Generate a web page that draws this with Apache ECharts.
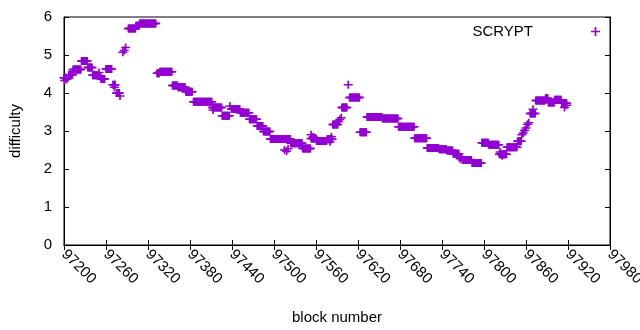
<!DOCTYPE html>
<html>
<head>
<meta charset="utf-8">
<script src="https://cdn.jsdelivr.net/npm/echarts@6/dist/echarts.min.js"></script>
<style>
  html, body { margin: 0; padding: 0; background: #fff; }
  #chart { width: 640px; height: 330px; }
</style>
</head>
<body>
<div id="chart"></div>
<script>
// difficulty stays flat between retargets, so the blocks are kept as runs
let runStart = [97200, 97207, 97213, 97225, 97234, 97241, 97253, 97260, 97270, 97275,
  97292, 97303, 97308, 97333, 97337, 97355, 97363, 97374, 97385, 97412,
  97426, 97439, 97452, 97465, 97476, 97485, 97495, 97524, 97541, 97553,
  97561, 97576, 97584, 97597, 97608, 97623, 97633, 97655, 97678, 97701,
  97719, 97736, 97747, 97756, 97769, 97783, 97797, 97807, 97822, 97833,
  97848, 97866, 97874, 97888, 97892, 97901, 97911];
let runEnd = [97203, 97212, 97224, 97233, 97240, 97248, 97258, 97268, 97273, 97279,
  97302, 97307, 97331, 97336, 97354, 97362, 97373, 97383, 97411, 97425,
  97436, 97451, 97464, 97475, 97484, 97494, 97523, 97540, 97552, 97560,
  97575, 97583, 97591, 97604, 97622, 97632, 97654, 97677, 97700, 97718,
  97735, 97746, 97755, 97764, 97782, 97796, 97806, 97821, 97832, 97847,
  97853, 97873, 97887, 97891, 97900, 97910, 97918];
let runDiff = [4.40, 4.48, 4.62, 4.84, 4.67, 4.47, 4.37, 4.63, 4.22, 4.00,
  5.70, 5.77, 5.83, 4.52, 4.56, 4.20, 4.15, 4.03, 3.77, 3.62,
  3.40, 3.58, 3.48, 3.31, 3.13, 2.99, 2.79, 2.68, 2.54, 2.80,
  2.74, 2.78, 3.17, 3.62, 3.88, 2.97, 3.37, 3.33, 3.11, 2.81,
  2.55, 2.52, 2.49, 2.40, 2.24, 2.16, 2.69, 2.64, 2.39, 2.57,
  2.73, 3.46, 3.80, 3.86, 3.75, 3.82, 3.73];

// odd blocks that sit off the runs
let singleBlock = [97201, 97204, 97250, 97252, 97272, 97280, 97284, 97286, 97288, 97413,
  97437, 97515, 97518, 97520, 97553, 97556, 97580, 97582, 97592, 97594,
  97596, 97606, 97766, 97768, 97823, 97826, 97854, 97856, 97858, 97860,
  97862, 97864, 97870, 97915, 97918];
let singleDiff = [4.33, 4.36, 4.54, 4.42, 4.15, 3.92, 5.07, 5.12, 5.20, 3.55,
  3.66, 2.50, 2.47, 2.53, 2.90, 2.85, 2.72, 2.85, 3.25, 3.30,
  3.35, 4.22, 2.27, 2.30, 2.45, 2.35, 2.90, 2.95, 3.02, 3.08,
  3.18, 3.22, 3.57, 3.62, 3.68];

let xMin = 97200, xMax = 97980, xStep = 60;
let yMin = 0, yMax = 6, yStep = 1;

// one point per block
let points = [];
for (let i = 0; i < runStart.length; i++) {
  for (let b = runStart[i]; b <= runEnd[i]; b++) {
    points.push([b, runDiff[i]]);
  }
}
for (let i = 0; i < singleBlock.length; i++) {
  points.push([singleBlock[i], singleDiff[i]]);
}

let purple = "#9400d3";
let font = "'Liberation Sans', Arial, sans-serif";
// gnuplot style "+"
let plus = "path://M3.25,0H4.75V3.25H8V4.75H4.75V8H3.25V4.75H0V3.25H3.25Z";

let myChart = echarts.init(document.getElementById("chart"));

let opts = {
  animation: false,
  backgroundColor: "#fff",
  textStyle: { fontFamily: font, color: "#000" },
  grid: {
    left: 64,
    right: 30,
    top: 17,
    bottom: 85,
    containLabel: false,
    outerBoundsMode: "none",
    show: true,
    borderColor: "#000",
    borderWidth: 1
  },
  legend: {
    data: ["SCRYPT"],
    right: 35,
    top: 19,
    align: "right",
    icon: plus,
    itemWidth: 9,
    itemHeight: 9,
    textStyle: { fontSize: 15, color: "#000", fontFamily: font, padding: [0, 53, 0, 0] }
  },
  xAxis: [
    {
      type: "value",
      min: xMin,
      max: xMax,
      interval: xStep,
      name: "block number",
      nameLocation: "middle",
      nameGap: 65,
      nameTextStyle: { fontSize: 15, color: "#000", fontFamily: font },
      axisLine: { show: true, lineStyle: { color: "#000", width: 1 } },
      axisTick: { show: true, inside: true, length: 5, lineStyle: { color: "#000" } },
      axisLabel: {
        rotate: -45,
        margin: 7,
        fontSize: 15,
        color: "#000",
        fontFamily: font,
        formatter: function (v) { return String(v); }
      },
      splitLine: { show: false }
    },
    {
      type: "value",
      position: "top",
      min: xMin,
      max: xMax,
      interval: xStep,
      axisLine: { show: true, lineStyle: { color: "#000", width: 1 } },
      axisTick: { show: true, inside: true, length: 5, lineStyle: { color: "#000" } },
      axisLabel: { show: false },
      splitLine: { show: false }
    }
  ],
  yAxis: [
    {
      type: "value",
      min: yMin,
      max: yMax,
      interval: yStep,
      name: "difficulty",
      nameLocation: "middle",
      nameGap: 41,
      nameRotate: 90,
      nameTextStyle: { fontSize: 15, color: "#000", fontFamily: font },
      axisLine: { show: true, lineStyle: { color: "#000", width: 1 } },
      axisTick: { show: true, inside: true, length: 5, lineStyle: { color: "#000" } },
      axisLabel: { margin: 12, fontSize: 15, color: "#000", fontFamily: font },
      splitLine: { show: false }
    },
    {
      type: "value",
      position: "right",
      min: yMin,
      max: yMax,
      interval: yStep,
      axisLine: { show: true, lineStyle: { color: "#000", width: 1 } },
      axisTick: { show: true, inside: true, length: 5, lineStyle: { color: "#000" } },
      axisLabel: { show: false },
      splitLine: { show: false }
    }
  ],
  series: [
    {
      name: "SCRYPT",
      type: "scatter",
      xAxisIndex: 0,
      yAxisIndex: 0,
      symbol: plus,
      symbolSize: [9, 8],
      itemStyle: { color: purple, opacity: 1 },
      data: points
    }
  ]
};

myChart.setOption(opts);
</script>
</body>
</html>
